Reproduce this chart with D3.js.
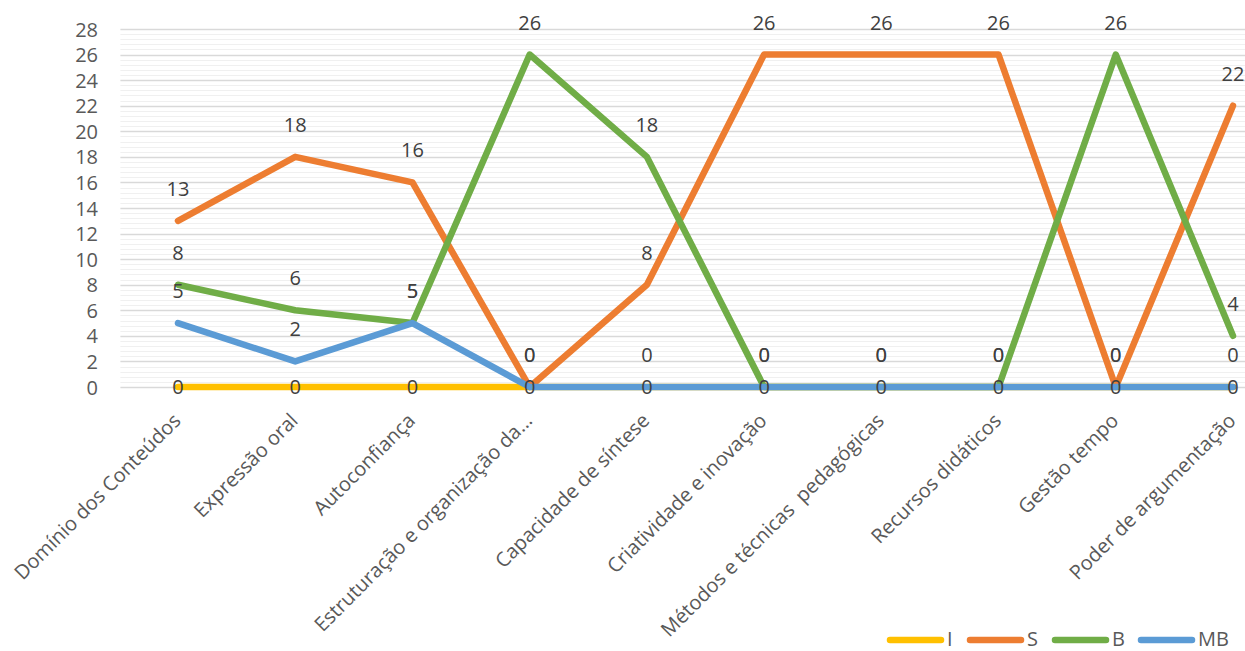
<!DOCTYPE html>
<html>
<head>
<meta charset="utf-8">
<script src="https://cdn.jsdelivr.net/npm/d3@7"></script>
<style>
  html, body { margin: 0; padding: 0; background: #fff; }
  svg { display: block; font-family: "Open Sans", sans-serif; }
</style>
</head>
<body>
<svg id="chart" width="1245" height="651"></svg>
<script>
// Evaluation criteria (x axis)
const categories = [
  "Domínio dos Conteúdos",
  "Expressão oral",
  "Autoconfiança",
  "Estruturação e organização da...",
  "Capacidade de síntese",
  "Criatividade e inovação",
  "Métodos e técnicas  pedagógicas",
  "Recursos didáticos",
  "Gestão tempo",
  "Poder de argumentação"
];

// Counts per rating level
const seriesNames = ["I", "S", "B", "MB"];
const valuesI  = [0, 0, 0, 0, 0, 0, 0, 0, 0, 0];
const valuesS  = [13, 18, 16, 0, 8, 26, 26, 26, 0, 22];
const valuesB  = [8, 6, 5, 26, 18, 0, 0, 0, 26, 4];
const valuesMB = [5, 2, 5, 0, 0, 0, 0, 0, 0, 0];

const yTicks = [0, 2, 4, 6, 8, 10, 12, 14, 16, 18, 20, 22, 24, 26, 28];

const colors = { I: "#FFC000", S: "#ED7D31", B: "#70AD47", MB: "#5B9BD5" };
const textColor = "#595959";

const series = [
  { name: "I",  values: valuesI,  labelPos: "center" },
  { name: "S",  values: valuesS,  labelPos: "above" },
  { name: "B",  values: valuesB,  labelPos: "above" },
  { name: "MB", values: valuesMB, labelPos: "above" }
];

const svg = d3.select("#chart");

const plot = { left: 119.4, right: 1291.6, top: 29, bottom: 387 };

const x = d3.scaleBand().domain(categories).range([plot.left, plot.right]).padding(0);
const cx = c => x(c) + x.bandwidth() / 2;
const y = d3.scaleLinear().domain([0, 28]).range([plot.bottom, plot.top]);

// Minor gridlines every 0.4
const minor = d3.range(0, 28.0001, 0.4).filter(v => Math.abs(v / 2 - Math.round(v / 2)) > 1e-6);
svg.append("g").selectAll("line").data(minor).join("line")
  .attr("x1", plot.left + 1).attr("x2", 1245)
  .attr("y1", d => Math.round(y(d)) + 0.5).attr("y2", d => Math.round(y(d)) + 0.5)
  .attr("stroke", "#f0f0f0").attr("stroke-width", 1);

// Major gridlines
svg.append("g").selectAll("line").data(yTicks).join("line")
  .attr("x1", plot.left + 1).attr("x2", 1245)
  .attr("y1", d => Math.round(y(d)) + 0.5).attr("y2", d => Math.round(y(d)) + 0.5)
  .attr("stroke", "#d9d9d9").attr("stroke-width", 1.5);

// Y axis labels
const yAxis = d3.axisLeft(y).tickValues(yTicks).tickSize(0).tickPadding(0);
const gy = svg.append("g").attr("transform", "translate(98,0)").call(yAxis);
gy.select(".domain").remove();
gy.selectAll("text")
  .attr("fill", textColor)
  .style("font-size", "20px")
  .style("font-family", "'Open Sans', sans-serif")
  .attr("dy", "0.35em");

// X axis labels, rotated
const xAxis = d3.axisBottom(x).tickSize(0).tickPadding(0);
const gx = svg.append("g").attr("transform", `translate(0,${plot.bottom})`).call(xAxis);
gx.select(".domain").remove();
gx.selectAll(".tick text")
  .attr("fill", textColor)
  .style("font-size", "20px")
  .style("font-family", "'Open Sans', sans-serif")
  .style("white-space", "pre")
  .attr("text-anchor", "end")
  .attr("y", 0)
  .attr("dy", 0)
  .attr("transform", "translate(-6,25) rotate(-45) translate(0,14)");

// Lines
const line = d3.line()
  .x((d, i) => cx(categories[i]))
  .y(d => y(d));

const gl = svg.append("g");
series.forEach(s => {
  gl.append("path")
    .datum(s.values)
    .attr("d", line)
    .attr("fill", "none")
    .attr("stroke", colors[s.name])
    .attr("stroke-width", 6.5)
    .attr("stroke-linejoin", "round")
    .attr("stroke-linecap", "round");
});

// Data labels
const glab = svg.append("g")
  .style("font-size", "20px")
  .attr("fill", "#404040")
  .attr("text-anchor", "middle");
series.forEach(s => {
  glab.append("g").selectAll("text").data(s.values).join("text")
    .attr("x", (d, i) => cx(categories[i]))
    .attr("y", d => s.labelPos === "center" ? y(d) + 7 : y(d) - 25)
    .text(d => d);
});

// Legend
const legendItems = [
  { name: "I",  x: 887 },
  { name: "S",  x: 967 },
  { name: "B",  x: 1052 },
  { name: "MB", x: 1138 }
];
const gleg = svg.append("g");
legendItems.forEach(it => {
  gleg.append("line")
    .attr("x1", it.x + 3).attr("x2", it.x + 54)
    .attr("y1", 640).attr("y2", 640)
    .attr("stroke", colors[it.name])
    .attr("stroke-width", 6.5)
    .attr("stroke-linecap", "round");
  gleg.append("text")
    .attr("x", it.x + 60).attr("y", 646)
    .attr("fill", textColor)
    .style("font-size", "20px")
    .text(it.name);
});
</script>
</body>
</html>
